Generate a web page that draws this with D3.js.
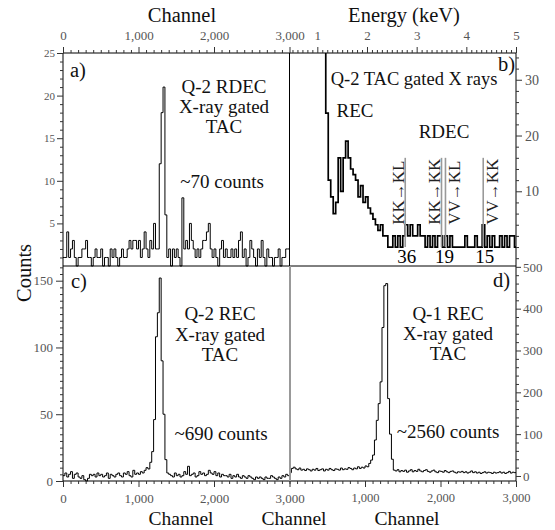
<!DOCTYPE html>
<html><head><meta charset="utf-8">
<script src="https://cdn.jsdelivr.net/npm/d3@7"></script>
<style>body{margin:0;background:#fff}svg{display:block}</style>
</head><body>
<svg id="chart" width="555" height="530"></svg>
<script>
// ---------------- data ----------------
// channel histograms: 25 channels per bin, 0..3000
const channelBinWidth = 25;
const rdecQ2Counts = [1,1,4,1,2,3,1,0,1,1, 2,2,3,1,1,0,1,2,1,1, 2,0,1,1,0,2,1,2,1,0, 1,2,1,1,2,3,2,3,3,2,
  3,1,2,4,2,1,3,2,5,2, 2,12,18,21,6,1,2,0,2,1, 2,1,0,8,2,3,2,5,3,2, 1,2,1,2,3,3,4,5,2,1,
  2,1,0,2,3,1,2,1,1,2, 1,2,1,3,4,1,2,0,1,3, 2,1,0,2,1,3,1,0,2,1, 1,0,1,1,2,0,1,1,2,2];
const recQ2Counts = [4,6,3,5,7,2,5,6,3,2, 4,1,0,2,5,4,5,3,6,4, 5,3,4,6,2,5,4,3,5,6, 4,3,6,5,7,4,3,8,5,6,
  5,7,6,8,10,9,14,22,46,108, 126,152,90,50,16,6,5,4,3,6, 4,5,3,4,7,5,11,4,5,6, 3,4,7,5,6,4,5,8,6,5,
  7,4,6,3,5,4,4,3,5,2, 4,3,5,3,2,4,3,2,4,3, 2,1,3,2,3,2,1,3,2,2, 4,3,2,1,3,2,4,3,5,4];
const recQ1Counts = [8,18,21,17,15,19,14,16,13,17, 15,12,16,14,18,13,15,17,12,16, 14,18,15,13,17,16,14,19,15,17,
  16,20,18,15,19,17,22,18,21,19, 24,22,30,38,50,86,133,173,225,355, 455,460,185,100,40,14,12,15,10,13,
  11,14,9,12,15,10,13,11,16,12, 10,13,15,11,9,12,14,10,8,12, 11,9,13,10,8,11,12,9,7,10,
  9,11,8,10,7,9,12,8,10,7, 9,6,8,10,7,9,8,6,9,7, 8,10,7,9,6,8,11,7,9,8];
// energy histogram (keV), bins of 0.05 keV starting at 1.12 keV
const energyBinStart = 1.12;
const energyBinWidth = 0.05;
const xrayCounts = [60,24,12,9,6,8,16,10,16,19, 16,14,13,12,9,11,8,9,7,6,
  5,4,3,4,2,2,0,0,2,0, 2,0,2,4,2,4,2,2,4,2, 2,0,2,0,2,0,2,2,0,2,
  0,2,0,0,0,0,0,2,0,0, 0,2,0,0,4,0,2,0,2,0, 0,2,0,2,0,2,2,0];
const transitionLabels = ["KK→KL","KK→KK","VV→KL","VV→KK"];
const transitionEnergies = [2.77, 3.50, 3.58, 4.34];
const transitionSides = ["left","left","right","right"];
const transitionLineTop = 16;
const rdecYields = ["36","19","15"];
const rdecYieldEnergies = [2.80, 3.56, 4.37];
// tick labels
const channelTicks = [0,1000,2000,3000];
const energyTicks = [1,2,3,4,5];
const rdecYTicks = [5,10,15,20,25];
const xrayYTicks = [10,20,30];
const recQ2YTicks = [0,50,100,150];
const recQ1YTicks = [0,100,200,300,400,500];

// ---------------- drawing ----------------
const svg = d3.select("#chart");
const SERIF = "'Liberation Serif','DejaVu Serif',serif";
const fmt = d3.format(",");
const L = 63, M = 289.5, R = 516, T = 53, Mid = 266, B = 481;

const xA = d3.scaleLinear().domain([0,3000]).range([L, M]);
const yA = d3.scaleLinear().domain([0,25]).range([Mid, T]);
const xB = d3.scaleLinear().domain([0.44,5]).range([M, R]);
const yB = d3.scaleLinear().domain([-3.4,34.8]).range([Mid, T]);
const xC = d3.scaleLinear().domain([0,3000]).range([L, M]);
const yC = d3.scaleLinear().domain([0,161]).range([B, Mid]);
const xD = d3.scaleLinear().domain([0,3000]).range([M, R]);
const yD = d3.scaleLinear().domain([-12,502]).range([B, Mid]);

const defs = svg.append("defs");
function clip(id, x0, y0, x1, y1){
  defs.append("clipPath").attr("id", id).append("rect")
    .attr("x", x0).attr("y", y0).attr("width", x1-x0).attr("height", y1-y0);
  return "url(#"+id+")";
}

function stepPoints(values, start, width){
  const pts = values.map((v,i)=>[start + i*width, v]);
  pts.push([start + values.length*width, values[values.length-1]]);
  return pts;
}
function hist(values, start, width, xs, ys, clipId, sw){
  const line = d3.line().x(d=>xs(d[0])).y(d=>ys(d[1])).curve(d3.curveStepAfter);
  svg.append("path").attr("d", line(stepPoints(values, start, width)))
    .attr("fill","none").attr("stroke","#000").attr("stroke-width", sw)
    .attr("clip-path", clipId);
}

hist(rdecQ2Counts, 0, channelBinWidth, xA, yA, clip("cA", L, T, M, Mid+1), 1);
hist(xrayCounts, energyBinStart, energyBinWidth, xB, yB, clip("cB", M, T, R, Mid), 1.7);
hist(recQ2Counts, 0, channelBinWidth, xC, yC, clip("cC", L, Mid, M, B+1), 1);
hist(recQ1Counts, 0, channelBinWidth, xD, yD, clip("cD", M, Mid, R, B), 1);

// transition marker lines in b)
transitionEnergies.forEach((e,i)=>{
  svg.append("line").attr("x1", xB(e)).attr("x2", xB(e))
    .attr("y1", yB(0)).attr("y2", yB(transitionLineTop))
    .attr("stroke","#999").attr("stroke-width",1.6);
  const isLeft = transitionSides[i]==="left";
  const bx = isLeft ? xB(e) - 1.5 : xB(e) + 15;
  svg.append("text").attr("transform", `translate(${bx},${yB(4)}) rotate(-90)`)
    .attr("font-family", SERIF).attr("font-size", 17).attr("fill","#222")
    .text(transitionLabels[i]);
});
rdecYields.forEach((t,i)=>{
  svg.append("text").attr("x", xB(rdecYieldEnergies[i])).attr("y", 263)
    .attr("text-anchor","middle").attr("font-family", SERIF).attr("font-size", 19)
    .text(t);
});

// frame lines
function ln(x1,y1,x2,y2,c,w){
  svg.append("line").attr("x1",x1).attr("y1",y1).attr("x2",x2).attr("y2",y2)
    .attr("stroke",c).attr("stroke-width",w);
}
ln(L, T, R, T, "#000", 1);          // top
ln(L, T, L, B, "#000", 1);          // left
ln(R, T, R, B, "#000", 1);          // right
ln(L, Mid, R, Mid, "#000", 1);      // middle horizontal
ln(L, B, R, B, "#000", 1);          // bottom
ln(M, T, M, Mid, "#000", 1);        // a/b divider
ln(M+0.5, Mid, M+0.5, B, "#999", 2);// c/d divider

// axes
function styleAxis(g, fs){
  g.select(".domain").remove();
  g.selectAll(".tick line").attr("stroke","#333");
  g.selectAll(".tick text").attr("fill","#555").attr("font-family", SERIF).attr("font-size", fs);
}
function axis(gen, scale, major, minor, fmtF, fs, majLen, minLen, pad, tx, ty){
  const g = svg.append("g").attr("transform",`translate(${tx},${ty})`)
    .call(gen(scale).tickValues(major).tickSize(majLen).tickPadding(pad).tickFormat(fmtF));
  styleAxis(g, fs);
  const gm = svg.append("g").attr("transform",`translate(${tx},${ty})`)
    .call(gen(scale).tickValues(minor.filter(v=>!major.includes(v))).tickSize(minLen).tickFormat(""));
  styleAxis(gm, fs);
  return g;
}
const chMinor = d3.range(0, 3001, 100);
// a) top & left
axis(d3.axisTop, xA, channelTicks, chMinor, fmt, 13, 6, 3, 7.5, 0, T);
axis(d3.axisLeft, yA, rdecYTicks, d3.range(1, 26, 1), d3.format("d"), 11, 6, 3, 2, L, 0);
// b) top & right
axis(d3.axisTop, xB, energyTicks, d3.range(5, 51, 1).map(v=>v/10), d3.format("d"), 13, 6, 3, 7.5, 0, T);
axis(d3.axisRight, yB, xrayYTicks, d3.range(-2, 35, 2), d3.format("d"), 14, 6, 3, 3, R, 0);
// c) left & bottom
axis(d3.axisLeft, yC, recQ2YTicks, d3.range(0, 161, 5), d3.format("d"), 13, 7, 3, 3, L, 0);
axis(d3.axisBottom, xC, channelTicks, chMinor, fmt, 13, 6, 3, 6.5, 0, B);
// d) right & bottom
axis(d3.axisRight, yD, recQ1YTicks, d3.range(0, 501, 20), d3.format("d"), 13, 5, 3, 2, R, 0);
axis(d3.axisBottom, xD, channelTicks.slice(1), chMinor, fmt, 12.5, 6, 3, 6.5, 0, B);

// titles
function txt(x, y, s, fs, anchor, extra){
  const t = svg.append("text").attr("x",x).attr("y",y).attr("font-family",SERIF)
    .attr("font-size",fs).attr("text-anchor",anchor||"middle").attr("fill","#111").text(s);
  return t;
}
txt(182, 22, "Channel", 20.5);
txt(404, 22, "Energy (keV)", 20.5);
txt(181, 525, "Channel", 19.5);
txt(294, 525, "Channel", 19.5);
txt(407, 525, "Channel", 19.5);
svg.append("text").attr("transform","translate(31,273) rotate(-90)").attr("text-anchor","middle")
  .attr("font-family",SERIF).attr("font-size",20.5).attr("fill","#111").text("Counts");

// panel annotations
txt(70, 77, "a)", 20.5, "start");
txt(224, 93, "Q-2 RDEC", 19);
txt(224, 113, "X-ray gated", 19);
txt(224, 133, "TAC", 19);
txt(222, 188, "~70 counts", 19);

txt(515, 71, "b)", 20.5, "end");
txt(414, 85, "Q-2 TAC gated X rays", 18.5);
txt(355, 117, "REC", 19);
txt(444, 138, "RDEC", 19);

txt(71, 288, "c)", 20.5, "start");
txt(220, 320, "Q-2 REC", 19);
txt(220, 341, "X-ray gated", 19);
txt(220, 361, "TAC", 19);
txt(221, 440, "~690 counts", 19);

txt(510, 287, "d)", 20.5, "end");
txt(448, 320, "Q-1 REC", 19);
txt(448, 340, "X-ray gated", 19);
txt(448, 360, "TAC", 19);
txt(448, 438, "~2560 counts", 19);
</script>
</body></html>
